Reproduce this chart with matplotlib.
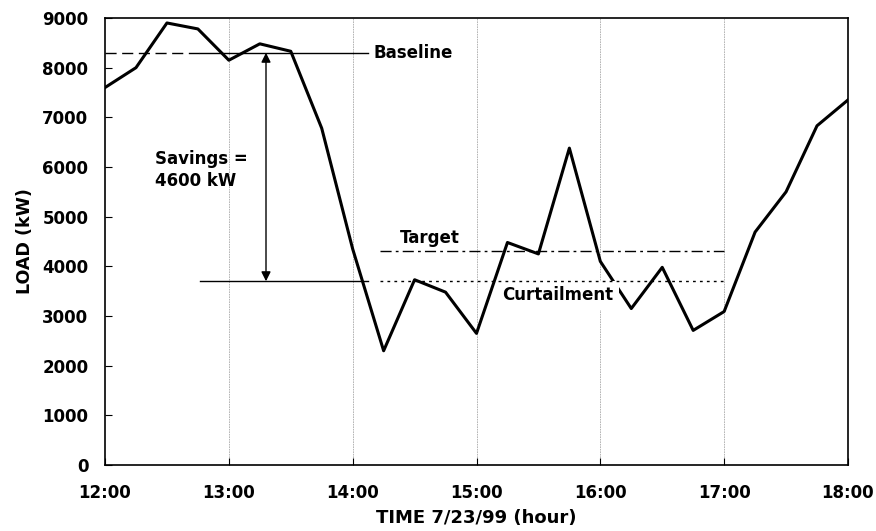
import numpy as np
import matplotlib.pyplot as plt

plt.rcParams['font.family'] = ['DejaVu Sans']
plt.rcParams['font.weight'] = 'bold'

# load readings every 15 minutes, 12:00 - 18:00
hours = np.arange(12, 18.01, 0.25)
load = [7600, 8000, 8900, 8780, 8150, 8480, 8330, 6780, 4350,
        2300, 3730, 3480, 2650, 4480, 4250, 6380, 4100, 3150,
        3980, 2710, 3090, 4690, 5500, 6830, 7350]

baseline = 8300
target = 4300
curtailment = 3700
savings_x = 13.3

xticks = [12, 13, 14, 15, 16, 17, 18]
xlabels = ['12:00', '13:00', '14:00', '15:00', '16:00', '17:00', '18:00']
yticks = np.arange(0, 9001, 1000)

fig = plt.figure(figsize=(8.76, 5.31), dpi=100)
ax = fig.add_axes([0.1199, 0.1243, 0.8481, 0.8418])

for x in xticks[1:-1]:
    ax.axvline(x, color='#aaaaaa', lw=0.6, ls=(0, (2, 1)), zorder=1)

ax.plot(hours, load, color='black', lw=2.2, zorder=3)

# baseline: dashed then solid leader to label
ax.plot([12, 12.77], [baseline, baseline], color='black', lw=1.0, ls=(0, (8, 4)), zorder=2)
ax.plot([12.77, 14.12], [baseline, baseline], color='black', lw=1.0, zorder=2)
ax.text(14.17, baseline, 'Baseline', fontsize=12, va='center', ha='left')

# curtailment: solid leader then dotted
ax.plot([12.77, 14.12], [curtailment, curtailment], color='black', lw=1.0, zorder=5)
ax.plot([14.22, 17.0], [curtailment, curtailment], color='black', lw=1.0, ls=(0, (2, 3)), zorder=5)
ax.text(15.21, 3420, 'Curtailment', fontsize=12, va='center', ha='left', zorder=4,
        bbox=dict(facecolor='white', edgecolor='none', pad=4))

# target
ax.plot([14.22, 17.0], [target, target], color='black', lw=1.0, ls=(0, (8, 3, 2, 3)), zorder=2)
ax.text(14.38, 4570, 'Target', fontsize=12, va='center', ha='left')

# savings arrow
ax.annotate('', xy=(savings_x, baseline), xytext=(savings_x, curtailment),
            arrowprops=dict(arrowstyle='<|-|>', color='black', lw=1.0,
                            mutation_scale=14, shrinkA=0, shrinkB=0))
ax.text(12.4, 5940, 'Savings =\n4600 kW', fontsize=12, va='center', ha='left', linespacing=1.35)

ax.set_xlim(12, 18)
ax.set_ylim(0, 9000)
ax.set_xticks(xticks)
ax.set_xticklabels(xlabels)
ax.set_yticks(yticks)
ax.tick_params(direction='in', length=5, labelsize=12)
ax.tick_params(axis='x', pad=14)
ax.tick_params(axis='y', pad=12)
for lbl in ax.get_xticklabels() + ax.get_yticklabels():
    lbl.set_fontweight('bold')
for s in ax.spines.values():
    s.set_linewidth(1.2)

ax.set_xlabel('TIME 7/23/99 (hour)', fontsize=13, fontweight='bold', labelpad=5)
ax.set_ylabel('LOAD (kW)', fontsize=12.6, fontweight='bold', labelpad=6)

fig.savefig('out.png', dpi=100)
